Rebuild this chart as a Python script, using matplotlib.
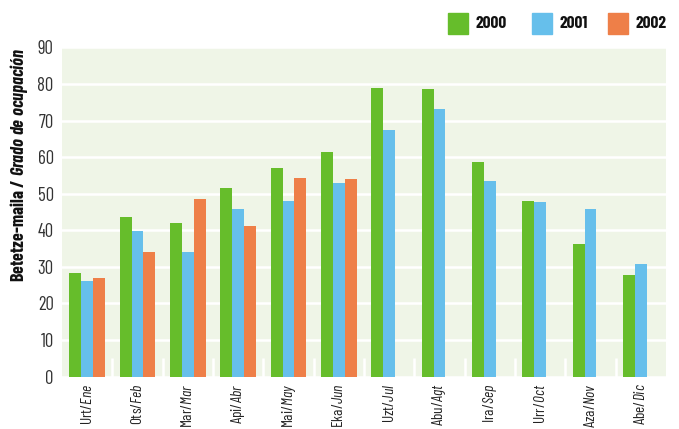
import numpy as np
import matplotlib
matplotlib.use("Agg")
import matplotlib.pyplot as plt
from matplotlib.patches import Rectangle

months_eu = ['Urt', 'Ots', 'Mar', 'Api', 'Mai', 'Eka', 'Uzt', 'Abu', 'Ira', 'Urr', 'Aza', 'Abe']
months_es = ['Ene', 'Feb', 'Mar', 'Abr', 'May', 'Jun', 'Jul', 'Agt', 'Sep', 'Oct', 'Nov', 'Dic']
years = ['2000', '2001', '2002']
v2000 = [28.2, 43.6, 42.0, 51.6, 57.0, 61.4, 78.9, 78.6, 58.7, 48.0, 36.2, 27.7]
v2001 = [26.1, 39.8, 34.0, 45.8, 48.0, 52.9, 67.4, 73.1, 53.5, 47.7, 45.8, 30.7]
v2002 = [26.9, 34.0, 48.6, 41.2, 54.3, 54.0, np.nan, np.nan, np.nan, np.nan, np.nan, np.nan]

colors = ['#66BD2B', '#66BFEB', '#EE7F48']
bg = '#EFF5E7'
cond = 'Barlow Condensed'

plt.rcParams['font.family'] = [cond, 'DejaVu Sans']
plt.rcParams['mathtext.fontset'] = 'custom'
plt.rcParams['mathtext.rm'] = cond
plt.rcParams['mathtext.it'] = cond + ':italic'
plt.rcParams['mathtext.bf'] = cond + ':italic:bold'

fig = plt.figure(figsize=(6.79, 4.29), dpi=100)
ax = fig.add_axes([62 / 679, 1 - 376.5 / 429, 604 / 679, 329 / 429])
ax.set_facecolor(bg)
for s in ax.spines.values():
    s.set_visible(False)

x = np.arange(len(months_eu))
w = 0.235
for i, vals in enumerate([v2000, v2001, v2002]):
    ax.bar(x + (i - 1) * w, vals, width=w, color=colors[i], zorder=3)

ax.set_xlim(-0.5, len(months_eu) - 0.5)
ax.set_ylim(0, 90)
ax.set_yticks(np.arange(0, 91, 10))
ax.yaxis.grid(True, color='white', linewidth=1.8, zorder=1)
ax.set_axisbelow(True)
ax.tick_params(axis='y', length=0, pad=6, labelsize=13.5, labelcolor='#333333')

ax.set_xticks(x)
ax.set_xticklabels([eu + '/$\\mathit{' + es + '}$' for eu, es in zip(months_eu, months_es)],
                   rotation=90, fontsize=11, color='#222222')
ax.tick_params(axis='x', length=0, pad=5)
ax.set_xticks(np.arange(0.5, len(months_eu) - 0.5, 1), minor=True)
ax.tick_params(axis='x', which='minor', direction='in', length=14, width=1.8, color='white')

# y title sits above the axis centre in the reference
fig.text(19 / 679, 1 - 165 / 429, 'Betetze-maila / $\\mathbf{Grado\\ de\\ ocupación}$',
         rotation=90, fontsize=13, fontweight='bold', color='#111111',
         ha='center', va='center')

# legend in figure pixels
for i, yr in enumerate(years):
    x0 = [448, 532, 608][i]
    fig.patches.append(Rectangle((x0 / 679, 1 - 34 / 429), 20 / 679, 21 / 429,
                                 transform=fig.transFigure, color=colors[i]))
    fig.text((x0 + 28) / 679, 1 - 23.5 / 429, yr, fontsize=12.5, fontweight='bold',
             va='center', ha='left', color='#111111')

fig.savefig('out.png', dpi=100, facecolor='white')
